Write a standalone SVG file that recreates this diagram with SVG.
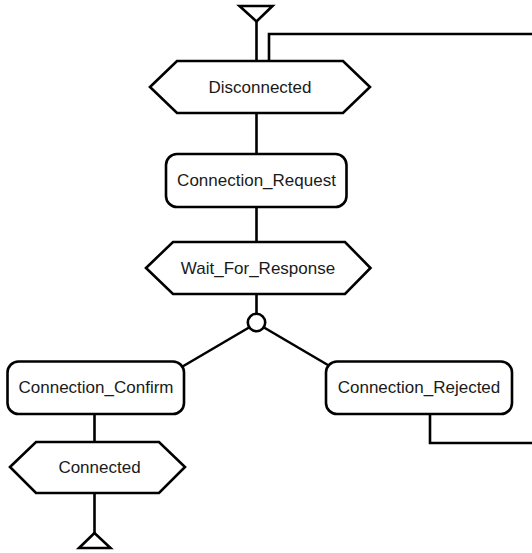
<svg xmlns="http://www.w3.org/2000/svg" width="532" height="553" viewBox="0 0 532 553">
  <style>
    .shape { fill: #ffffff; stroke: #000000; stroke-width: 2.6; stroke-linejoin: miter; }
    .box { fill: #ffffff; stroke: #000000; stroke-width: 2.6; }
    .wire { fill: none; stroke: #000000; stroke-width: 2.6; }
    .label { font-family: "Liberation Sans", Arial, sans-serif; font-size: 17px; fill: #1a1a1a; text-anchor: middle; }
  </style>

  <!-- connectors -->
  <g id="connectors">
    <line class="wire" x1="256.5" y1="21" x2="256.5" y2="61"/>
    <polyline class="wire" points="269,61 269,34 532,34"/>
    <line class="wire" x1="256.5" y1="113" x2="256.5" y2="154"/>
    <line class="wire" x1="256.5" y1="207" x2="256.5" y2="242"/>
    <line class="wire" x1="256.5" y1="294" x2="256.5" y2="313.5"/>
    <line class="wire" x1="249" y1="327.5" x2="180" y2="368"/>
    <line class="wire" x1="264" y1="327.5" x2="333" y2="368"/>
    <line class="wire" x1="94.5" y1="414" x2="94.5" y2="442"/>
    <line class="wire" x1="94.5" y1="493" x2="94.5" y2="533"/>
    <polyline class="wire" points="430,414 430,443 532,443"/>
  </g>

  <!-- entry point -->
  <g id="entry">
    <polygon class="shape" points="239.5,6 272.5,6 256.5,21.5"/>
  </g>

  <g id="disconnected">
    <polygon class="shape" points="150,87 177,61 343,61 370,87 343,113 177,113"/>
    <text class="label" x="260" y="93">Disconnected</text>
  </g>

  <g id="connection_request">
    <rect class="box" x="166" y="154" width="180.5" height="53" rx="11"/>
    <text class="label" x="256.5" y="186">Connection_Request</text>
  </g>

  <g id="wait_for_response">
    <polygon class="shape" points="146,268 173,242 345,242 370.5,268 345,294 173,294"/>
    <text class="label" x="258" y="274">Wait_For_Response</text>
  </g>

  <!-- decision point -->
  <g id="choice">
    <circle class="shape" cx="256.5" cy="322.5" r="8.7"/>
  </g>

  <g id="connection_confirm">
    <rect class="box" x="7.5" y="361.5" width="176.5" height="52.5" rx="11"/>
    <text class="label" x="96" y="393">Connection_Confirm</text>
  </g>

  <g id="connection_rejected">
    <rect class="box" x="326" y="361.5" width="186" height="52.5" rx="11"/>
    <text class="label" x="419" y="393">Connection_Rejected</text>
  </g>

  <g id="connected">
    <polygon class="shape" points="10,467 36,442 159,442 185,467 159,493 36,493"/>
    <text class="label" x="99.5" y="473">Connected</text>
  </g>

  <!-- exit point -->
  <g id="exit">
    <polygon class="shape" points="94.5,533 79,548 110.5,548"/>
  </g>
</svg>
